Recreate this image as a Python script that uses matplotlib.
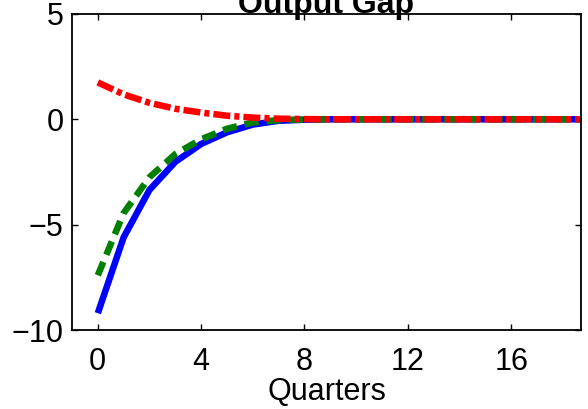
import numpy as np
import matplotlib
matplotlib.use('Agg')
import matplotlib.pyplot as plt

plt.rcParams['font.family'] = ['Liberation Sans', 'DejaVu Sans']

# Quarters after the shock
quarters = np.arange(0, 20)

# Output gap responses
gap_blue = [-9.2, -5.6, -3.35, -2.02, -1.17, -0.62, -0.25, -0.07, -0.02, 0.0,
            0.0, 0.0, 0.0, 0.0, 0.0, 0.0, 0.0, 0.0, 0.0, 0.0]
gap_green = [-7.4, -4.45, -2.75, -1.65, -0.95, -0.45, -0.15, -0.04, -0.01, 0.0,
             0.0, 0.0, 0.0, 0.0, 0.0, 0.0, 0.0, 0.0, 0.0, 0.0]
gap_red = [1.75, 1.18, 0.78, 0.5, 0.32, 0.17, 0.08, 0.03, 0.01, 0.0,
           0.0, 0.0, 0.0, 0.0, 0.0, 0.0, 0.0, 0.0, 0.0, 0.0]

x_ticks = [0, 4, 8, 12, 16]
y_ticks = [-10, -5, 0, 5]

fig = plt.figure(figsize=(5.88, 4.09), dpi=100)
ax = fig.add_axes([0.1224, 0.193, 0.8656, 0.773])

lw = 4.7
ax.plot(quarters, gap_blue, '-', color='blue', linewidth=lw, solid_capstyle='butt')
ax.plot(quarters, gap_green, color='green', linewidth=lw, dashes=(2.2, 1.2), dash_capstyle='butt')
ax.plot(quarters, gap_red, color='red', linewidth=lw, dashes=(2.6, 0.62, 0.78, 0.62), dash_capstyle='butt')

ax.set_xlim(-1, 18.7)
ax.set_ylim(-10, 5)
ax.set_xticks(x_ticks)
ax.set_yticks(y_ticks)
ax.set_yticklabels(['\u221210', '\u22125', '0', '5'])
ax.tick_params(direction='in', top=True, right=True, length=4, width=1, labelsize=22)
ax.tick_params(axis='x', pad=12)
ax.tick_params(axis='y', pad=6)
for s in ax.spines.values():
    s.set_linewidth(1.3)

ax.set_xlabel('Quarters', fontsize=22, labelpad=0)
ax.set_title('Output Gap', fontsize=23, fontweight='bold', pad=1)

fig.savefig('out.png', dpi=100)
